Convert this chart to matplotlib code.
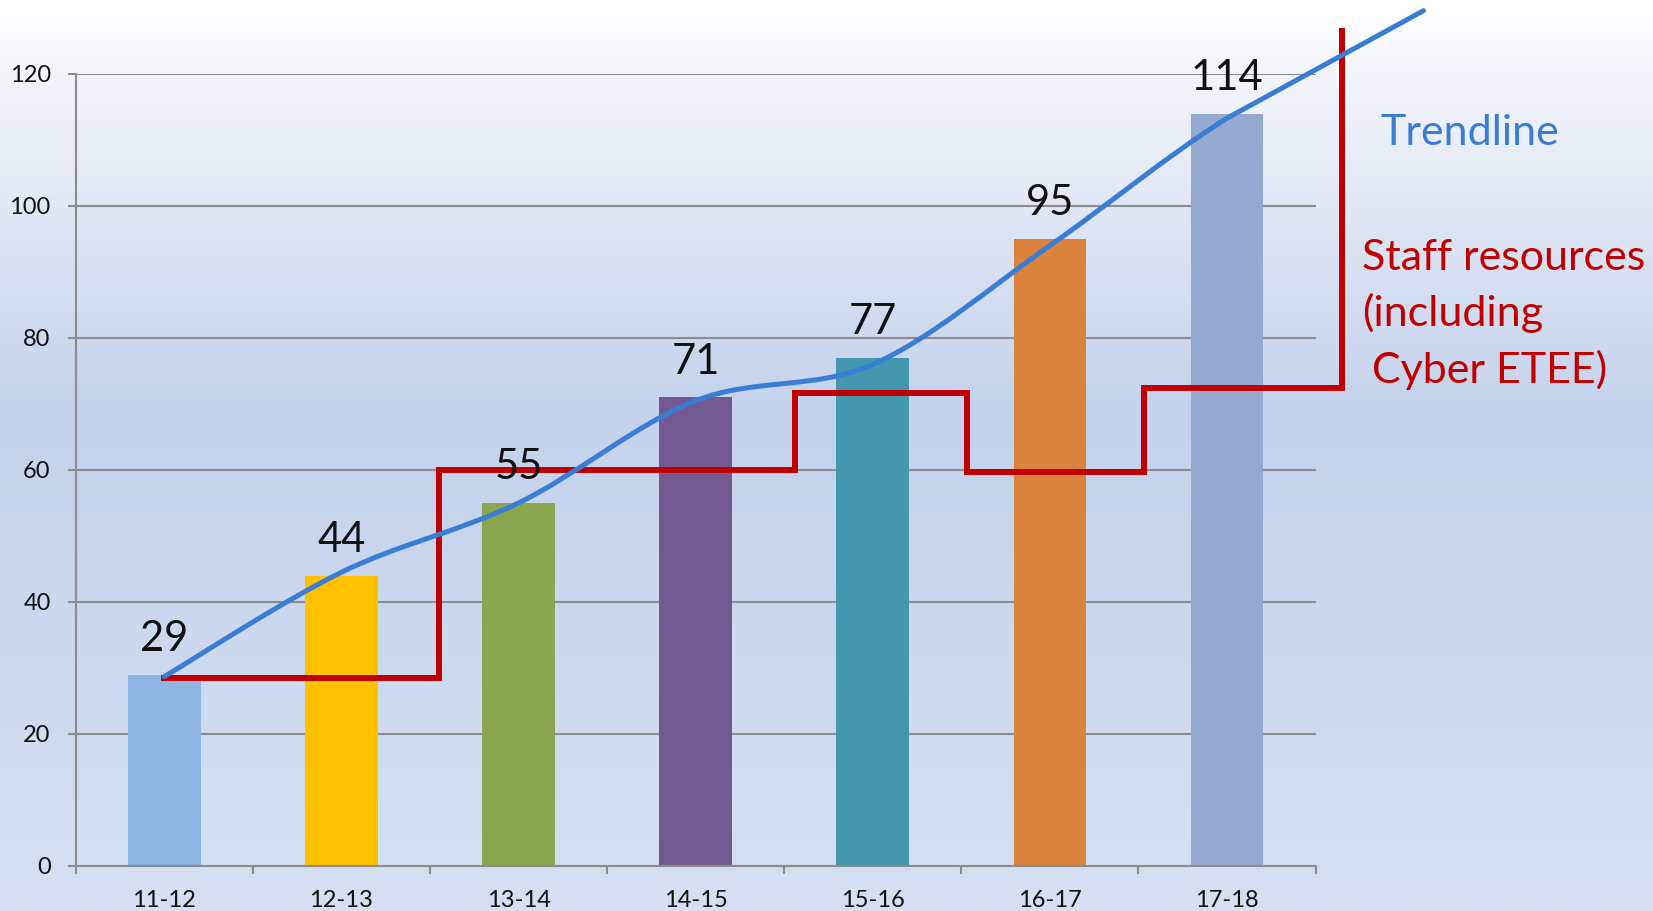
import matplotlib
matplotlib.use("Agg")
import matplotlib.pyplot as plt
import numpy as np
from matplotlib.path import Path
from matplotlib.patches import PathPatch
from matplotlib.colors import LinearSegmentedColormap

# ---- data ----
categories = ["11-12", "12-13", "13-14", "14-15", "15-16", "16-17", "17-18"]
values = [29, 44, 55, 71, 77, 95, 114]
bar_colors = ["#8EB4E3", "#FFC000", "#8AA64E", "#72598F", "#4397AE", "#DC823F", "#94A9D0"]

# staff resources step line (x in category units, y values)
staff_x = [0, 1.55, 1.55, 3.56, 3.56, 4.53, 4.53, 5.53, 5.53, 6.65, 6.65]
staff_y = [28.5, 28.5, 60, 60, 71.6, 71.6, 59.7, 59.7, 72.4, 72.4, 126.5]

# trendline anchor points
trend_x = [0, 1, 2, 3, 4, 5, 6, 7.11]
trend_y = [28.7, 44.5, 55, 70.5, 76, 94, 113.3, 129.6]

yticks = [0, 20, 40, 60, 80, 100, 120]

plt.rcParams['font.family'] = ['Lato', 'DejaVu Sans']

W, H = 1653, 911
fig = plt.figure(figsize=(W / 100, H / 100), dpi=100)

# background gradient
bg = fig.add_axes([0, 0, 1, 1], zorder=-10)
cmap = LinearSegmentedColormap.from_list(
    "bg", [(0.0, "#ffffff"), (0.08, "#f3f5fb"), (0.45, "#c4d2ec"), (1.0, "#d6e0f2")])
grad = np.linspace(0, 1, 512).reshape(-1, 1)
bg.imshow(grad, aspect="auto", cmap=cmap, extent=[0, 1, 0, 1], origin="upper")
bg.set_axis_off()

left = 75.7 / W
right = 1315.5 / W
bottom = 1 - 866 / H
top = 1 - 74 / H
ax = fig.add_axes([left, bottom, right - left, top - bottom])
ax.patch.set_alpha(0)

x = np.arange(len(categories))
ax.bar(x, values, width=0.41, color=bar_colors, zorder=2)

for xi, v in zip(x, values):
    ax.annotate(str(v), (xi, v), xytext=(0, 17), textcoords="offset points",
                ha="center", va="baseline", fontsize=30, color="#111111",
                annotation_clip=False, zorder=5)

# step line
ax.plot(staff_x, staff_y, color="#C00000", lw=4.3, solid_joinstyle="miter",
        clip_on=False, zorder=3)

# smooth trendline (Catmull-Rom -> cubic Bezier), straight final run-out
P = np.column_stack([trend_x, trend_y]).astype(float)
Pext = np.vstack([P[0], P, P[-1]])
verts = [tuple(P[0])]
codes = [Path.MOVETO]
nseg = len(Pext) - 3
for i in range(1, len(Pext) - 2):
    p0, p1, p2, p3 = Pext[i - 1], Pext[i], Pext[i + 1], Pext[i + 2]
    if i == nseg:
        verts.append(tuple(p2))
        codes.append(Path.LINETO)
        continue
    c1 = p1 + (p2 - p0) / 6.0
    c2 = p2 - (p3 - p1) / 6.0
    verts += [tuple(c1), tuple(c2), tuple(p2)]
    codes += [Path.CURVE4] * 3
patch = PathPatch(Path(verts, codes), facecolor="none", edgecolor="#3A7DD5",
                  lw=3.6, clip_on=False, zorder=4, capstyle="round", joinstyle="round")
ax.add_patch(patch)

ax.set_xlim(-0.5, len(categories) - 0.5)
ax.set_ylim(0, 120)
ax.set_yticks(yticks)
ax.set_yticklabels([str(t) for t in yticks])
ax.set_xticks(x)
ax.set_xticklabels(categories)
ax.set_xticks(np.arange(-0.5, len(categories), 1), minor=True)
ax.tick_params(axis="x", which="major", length=0, pad=17, labelsize=17, labelcolor="#111111")
ax.tick_params(axis="x", which="minor", length=6, width=1.5, color="#8c8c8c")
ax.tick_params(axis="y", length=6, width=1.5, color="#8c8c8c", pad=12,
               labelsize=17, labelcolor="#111111")

ax.grid(axis="y", color="#8c8c8c", lw=1.5, zorder=0)
ax.set_axisbelow(True)
for s in ["top", "right"]:
    ax.spines[s].set_visible(False)
for s in ["left", "bottom"]:
    ax.spines[s].set_color("#8c8c8c")
    ax.spines[s].set_linewidth(1.5)

# annotations on the right
fs = 31
fig.text(1380 / W, 1 - 145 / H, "Trendline", color="#3A7DD5", fontsize=fs,
         ha="left", va="baseline")
fig.text(1362 / W, 1 - 270 / H, "Staff resources", color="#C00000", fontsize=fs,
         ha="left", va="baseline")
fig.text(1362 / W, 1 - 326 / H, "(including", color="#C00000", fontsize=fs,
         ha="left", va="baseline")
fig.text(1372 / W, 1 - 383 / H, "Cyber ETEE)", color="#C00000", fontsize=fs,
         ha="left", va="baseline")

fig.savefig("out.png", dpi=100)
